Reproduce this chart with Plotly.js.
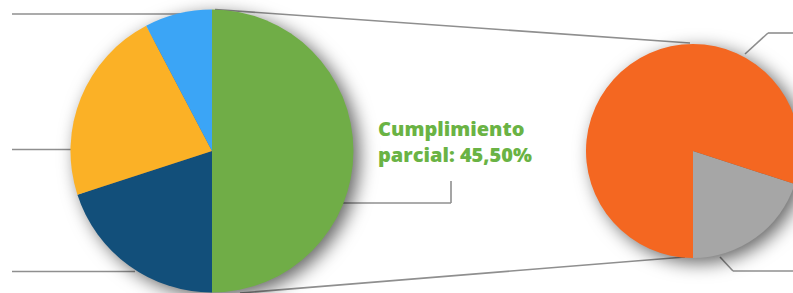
<!DOCTYPE html>
<html>
<head>
<meta charset="utf-8">
<script src="https://cdn.plot.ly/plotly-3.0.1.min.js"></script>
<style>
html, body { margin: 0; padding: 0; overflow: hidden; background: #fff; }
#chart { width: 800px; height: 293px; }
.pielayer .trace { filter: drop-shadow(6px 5px 9px rgba(0,0,0,0.6)); }
</style>
</head>
<body>
<div id="chart"></div>
<script>
// Left pie (main breakdown)
const mainLabels = ["Cumplimiento parcial", "Segmento azul oscuro", "Segmento amarillo", "Segmento azul claro"];
const mainValues = [50.0, 20.0, 22.3, 7.7];
const mainColors = ["#70ad47", "#124f7a", "#fbb126", "#3ba5f6"];

// Right pie (detail of partial compliance)
const detailLabels = ["Segmento gris", "Segmento naranja"];
const detailValues = [20.0, 80.0];
const detailColors = ["#a6a6a6", "#f46721"];

const annotationText = "Cumplimiento<br>parcial: 45,50%";

const W = 800, H = 293;
const lineColor = "#8f8f8f";
function seg(x0, y0, x1, y1) {
  return { type: "line", xref: "x", yref: "y", x0, y0, x1, y1, layer: "below",
           line: { color: lineColor, width: 1.6 } };
}

const traces = [
  {
    type: "pie", labels: mainLabels, values: mainValues, sort: false,
    direction: "clockwise", rotation: 0, textinfo: "none", hoverinfo: "label+value",
    marker: { colors: mainColors, line: { width: 0 } },
    domain: { x: [70.5 / W, 353.5 / W], y: [0.5 / H, 283.5 / H] },
    showlegend: false
  },
  {
    type: "pie", labels: detailLabels, values: detailValues, sort: false,
    direction: "clockwise", rotation: 108, textinfo: "none", hoverinfo: "label+value",
    marker: { colors: detailColors, line: { width: 0 } },
    domain: { x: [586 / W, 1], y: [35 / H, 249 / H] },
    showlegend: false
  }
];

const layout = {
  width: W, height: H,
  margin: { l: 0, r: 0, t: 0, b: 0 },
  paper_bgcolor: "#ffffff", plot_bgcolor: "rgba(0,0,0,0)",
  xaxis: { range: [0, W], visible: false, fixedrange: true },
  yaxis: { range: [H, 0], visible: false, fixedrange: true },
  showlegend: false,
  shapes: [
    seg(12, 14, 190, 14),
    seg(12, 149.5, 72, 149.5),
    seg(12, 271.5, 135, 271.5),
    seg(215, 9.5, 690, 43),
    seg(240, 293, 685, 257),
    seg(340, 203, 451, 203),
    seg(451, 203, 451, 181),
    seg(745, 54, 768, 33),
    seg(768, 33, 800, 33),
    seg(720, 257, 733, 271),
    seg(733, 271, 800, 271)
  ],
  annotations: [
    {
      xref: "x", yref: "y", x: 376, y: 141, xanchor: "left", yanchor: "middle",
      align: "left", showarrow: false, text: annotationText,
      font: { family: "Open Sans, sans-serif", size: 20, weight: 800, color: "#6ab344" }
    }
  ]
};

Plotly.newPlot("chart", traces, layout, { staticPlot: true, displayModeBar: false });
</script>
</body>
</html>
